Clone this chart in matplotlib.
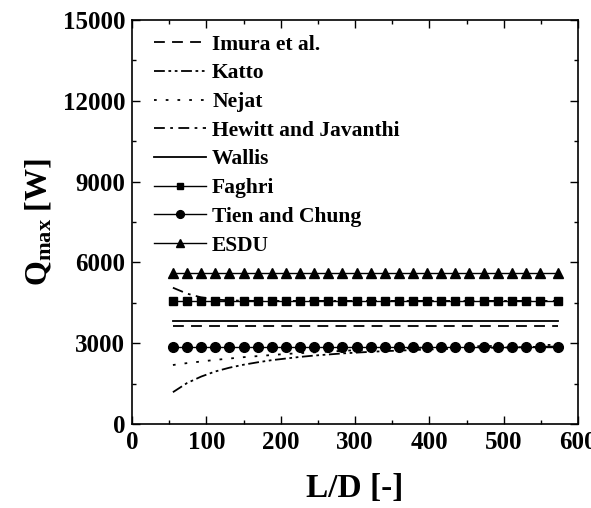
import matplotlib.pyplot as plt
import numpy as np

plt.rcParams['font.family'] = 'Liberation Serif'
plt.rcParams['font.weight'] = 'bold'
plt.rcParams['mathtext.fontset'] = 'custom'
plt.rcParams['mathtext.rm'] = 'Liberation Serif:bold'
plt.rcParams['mathtext.it'] = 'Liberation Serif:bold'

# L/D values where the correlations were evaluated
ld = [55, 74, 93, 112, 131, 150, 169, 188, 207, 226, 245, 264, 283, 302,
      321, 340, 359, 378, 397, 416, 435, 454, 473, 492, 511, 530, 549, 573]

imura = [3640] * len(ld)
wallis = [3830] * len(ld)
faghri = [4570] * len(ld)
tien_chung = [2870] * len(ld)
esdu = [5600] * len(ld)
katto = [1180, 1520, 1760, 1950, 2090, 2200, 2290, 2370, 2430, 2490, 2540,
         2580, 2620, 2650, 2680, 2705, 2725, 2745, 2765, 2780, 2795, 2810,
         2825, 2835, 2845, 2855, 2865, 2875]
nejat = [2190, 2260, 2320, 2380, 2430, 2480, 2520, 2560, 2600, 2630, 2660,
         2690, 2715, 2740, 2760, 2780, 2800, 2820, 2835, 2850, 2865, 2880,
         2890, 2900, 2910, 2920, 2930, 2940]
hewitt = [5060, 4840, 4700, 4620, 4590, 4575, 4570, 4570, 4570, 4570, 4570,
          4570, 4570, 4570, 4570, 4570, 4570, 4570, 4570, 4570, 4570, 4570,
          4570, 4570, 4570, 4570, 4570, 4570]

fig = plt.figure(figsize=(5.91, 5.08), dpi=100)
ax = fig.add_axes([0.2234, 0.1654, 0.7546, 0.7952])

ax.plot(ld, imura, color='black', lw=1.3, ls=(0, (6, 4)), label='Imura et al.')
ax.plot(ld, katto, color='black', lw=1.3, ls=(0, (6, 2, 1.5, 2, 1.5, 2)), label='Katto')
ax.plot(ld, nejat, color='black', lw=1.3, ls=(0, (1.5, 5)), label='Nejat')
ax.plot(ld, hewitt, color='black', lw=1.3, ls=(0, (6, 3, 1.5, 3)), label='Hewitt and Javanthi')
ax.plot(ld, wallis, color='black', lw=1.3, ls='-', label='Wallis')
ax.plot(ld, faghri, color='black', lw=1, marker='s', ms=6, label='Faghri')
ax.plot(ld, tien_chung, color='black', lw=1, marker='o', ms=7, label='Tien and Chung')
ax.plot(ld, esdu, color='black', lw=1, marker='^', ms=7, label='ESDU')

ax.set_xlim(0, 600)
ax.set_ylim(0, 15000)
ax.set_xticks(np.arange(0, 601, 100))
ax.set_yticks(np.arange(0, 15001, 3000))
ax.set_xticks(np.arange(50, 600, 100), minor=True)
ax.set_yticks(np.arange(1500, 15000, 3000), minor=True)
ax.tick_params(which='both', direction='in', top=True, right=True, width=1)
ax.tick_params(which='major', length=6, labelsize=18, pad=5)
ax.tick_params(which='minor', length=3)
for s in ax.spines.values():
    s.set_linewidth(1.2)

ax.set_xlabel('L/D [-]', fontsize=24, fontweight='bold', labelpad=14)
ax.set_ylabel(r'Q$_{\rm max}$ [W]', fontsize=23, fontweight='bold', labelpad=6)

ax.legend(loc='upper left', frameon=False, fontsize=15.5, handlelength=2.4,
          handletextpad=0.3, labelspacing=0.4, markerscale=0.8,
          bbox_to_anchor=(0.03, 0.985), borderaxespad=0)

fig.savefig('out.png', dpi=100)
